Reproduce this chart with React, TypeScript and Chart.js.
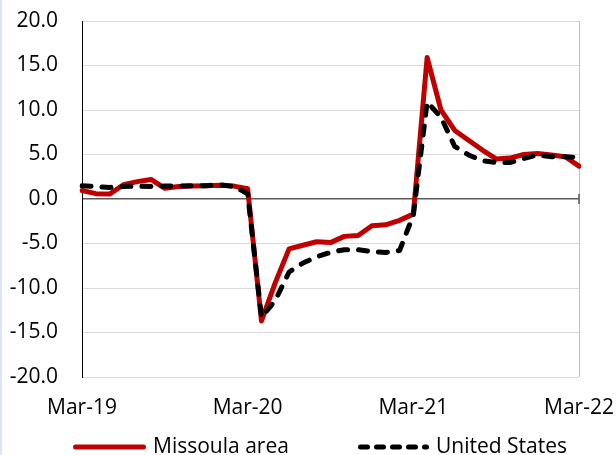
import React, { useEffect, useRef } from "react";
import { Chart, registerables } from "chart.js";

Chart.register(...registerables);

const months = [
  "Mar-19", "Apr-19", "May-19", "Jun-19", "Jul-19", "Aug-19", "Sep-19", "Oct-19", "Nov-19", "Dec-19",
  "Jan-20", "Feb-20", "Mar-20", "Apr-20", "May-20", "Jun-20", "Jul-20", "Aug-20", "Sep-20", "Oct-20",
  "Nov-20", "Dec-20", "Jan-21", "Feb-21", "Mar-21", "Apr-21", "May-21", "Jun-21", "Jul-21", "Aug-21",
  "Sep-21", "Oct-21", "Nov-21", "Dec-21", "Jan-22", "Feb-22", "Mar-22",
];

const missoula = [
  0.95, 0.6, 0.55, 1.6, 1.95, 2.2, 1.2, 1.4, 1.45, 1.5,
  1.55, 1.45, 1.15, -13.7, -9.4, -5.6, -5.2, -4.8, -4.9, -4.2,
  -4.1, -3.0, -2.9, -2.4, -1.7, 15.9, 10.0, 7.7, 6.6, 5.5,
  4.5, 4.6, 5.0, 5.1, 4.95, 4.75, 3.7,
];

const unitedStates = [
  1.5, 1.4, 1.3, 1.4, 1.45, 1.4, 1.45, 1.45, 1.5, 1.5,
  1.6, 1.4, 0.6, -13.3, -11.4, -8.2, -7.2, -6.5, -6.0, -5.7,
  -5.7, -5.9, -6.0, -5.8, -1.8, 10.9, 9.2, 5.9, 4.95, 4.3,
  4.1, 4.1, 4.55, 4.95, 4.75, 4.75, 4.65,
];

const seriesLabels = ["Missoula area", "United States"];
const yMin = -20;
const yMax = 20;
const yStep = 5;

const FONT_FAMILY = "'Open Sans', sans-serif";
const FONT_SIZE = 21;

export default function App() {
  const ref = useRef<HTMLCanvasElement | null>(null);

  useEffect(() => {
    document.body.style.margin = "0";
    const font = { family: FONT_FAMILY, size: FONT_SIZE };
    Chart.defaults.font.family = FONT_FAMILY;

    const zeroTick = {
      id: "zeroTick",
      beforeDatasetsDraw(chart: any) {
        const { ctx, scales } = chart;
        const x = scales.x.getPixelForValue(months.length - 1);
        const y = scales.y.getPixelForValue(0);
        ctx.save();
        ctx.strokeStyle = "#595959";
        ctx.lineWidth = 1.5;
        ctx.beginPath();
        ctx.moveTo(x, y - 5);
        ctx.lineTo(x, y + 5);
        ctx.stroke();
        ctx.restore();
      },
    };

    // Legend drawn below the axis, Excel-style (line sample + label)
    const legendLayout = [
      { x: 73, w: 73, dash: [] as number[] },
      { x: 358, w: 71, dash: [7, 9] },
    ];
    const legendY = 447;
    const customLegend = {
      id: "customLegend",
      afterDraw(chart: any) {
        const { ctx } = chart;
        chart.data.datasets.forEach((ds: any, i: number) => {
          const L = legendLayout[i];
          ctx.save();
          ctx.strokeStyle = ds.borderColor;
          ctx.lineWidth = ds.borderWidth;
          ctx.lineCap = "round";
          ctx.setLineDash(L.dash);
          ctx.beginPath();
          ctx.moveTo(L.x + 2.5, legendY);
          ctx.lineTo(L.x + L.w - 2.5, legendY);
          ctx.stroke();
          ctx.setLineDash([]);
          ctx.fillStyle = "#000";
          ctx.font = `${FONT_SIZE}px ${FONT_FAMILY}`;
          ctx.textBaseline = "middle";
          ctx.textAlign = "left";
          ctx.fillText(ds.label, L.x + L.w + 7, legendY);
          ctx.restore();
        });
      },
    };

    const chart = new Chart(ref.current as HTMLCanvasElement, {
      type: "line",
      data: {
        labels: months,
        datasets: [
          {
            label: seriesLabels[0],
            data: missoula,
            borderColor: "#C00000",
            backgroundColor: "#C00000",
            borderWidth: 5,
            pointRadius: 0,
            tension: 0,
            borderCapStyle: "round",
            borderJoinStyle: "round",
            order: 1,
          },
          {
            label: seriesLabels[1],
            data: unitedStates,
            borderColor: "#000000",
            backgroundColor: "#000000",
            borderWidth: 5,
            borderDash: [9, 11],
            borderCapStyle: "round",
            borderJoinStyle: "round",
            pointRadius: 0,
            tension: 0,
            order: 0,
          },
        ],
      },
      options: {
        animation: false,
        responsive: false,
        maintainAspectRatio: false,
        events: [],
        layout: { padding: { left: 0, right: 37, top: 21, bottom: 34 } },
        plugins: {
          tooltip: { enabled: false },
          legend: { display: false },
        },
        scales: {
          x: {
            grid: {
              color: (c: any) => (c.index === months.length - 1 ? "#bfbfbf" : "rgba(0,0,0,0)"),
              drawTicks: false,
              lineWidth: 1,
            },
            border: { display: false },
            ticks: {
              autoSkip: false,
              maxRotation: 0,
              minRotation: 0,
              color: "#000",
              font,
              padding: 18,
              callback: (_v: any, i: number) => (months[i].startsWith("Mar") ? months[i] : ""),
            },
            afterFit: (s: any) => {
              s.height = 44;
              s.paddingLeft = 0;
              s.paddingRight = 0;
            },
          },
          y: {
            min: yMin,
            max: yMax,
            ticks: {
              stepSize: yStep,
              color: "#000",
              font,
              padding: 24,
              callback: (v: any) => Number(v).toFixed(1),
            },
            grid: {
              color: (c: any) => (c.tick && c.tick.value === 0 ? "#595959" : "#d9d9d9"),
              lineWidth: (c: any) => (c.tick && c.tick.value === 0 ? 1.5 : 1),
              drawTicks: false,
            },
            border: { display: true, color: "#000", width: 1 },
            afterFit: (s: any) => {
              s.width = 82;
              s.paddingTop = 0;
              s.paddingBottom = 0;
            },
          },
        },
      },
      plugins: [zeroTick, customLegend],
    } as any);

    return () => chart.destroy();
  }, []);

  return (
    <div style={{ position: "fixed", left: 0, top: 0, width: 616, height: 455, background: "#fff" }}>
      <canvas ref={ref} width={616} height={455} style={{ display: "block", width: 616, height: 455 }} />
      <div style={{ position: "absolute", left: 0, top: 0, width: 2, height: 455, background: "#dae5f3" }} />
    </div>
  );
}
